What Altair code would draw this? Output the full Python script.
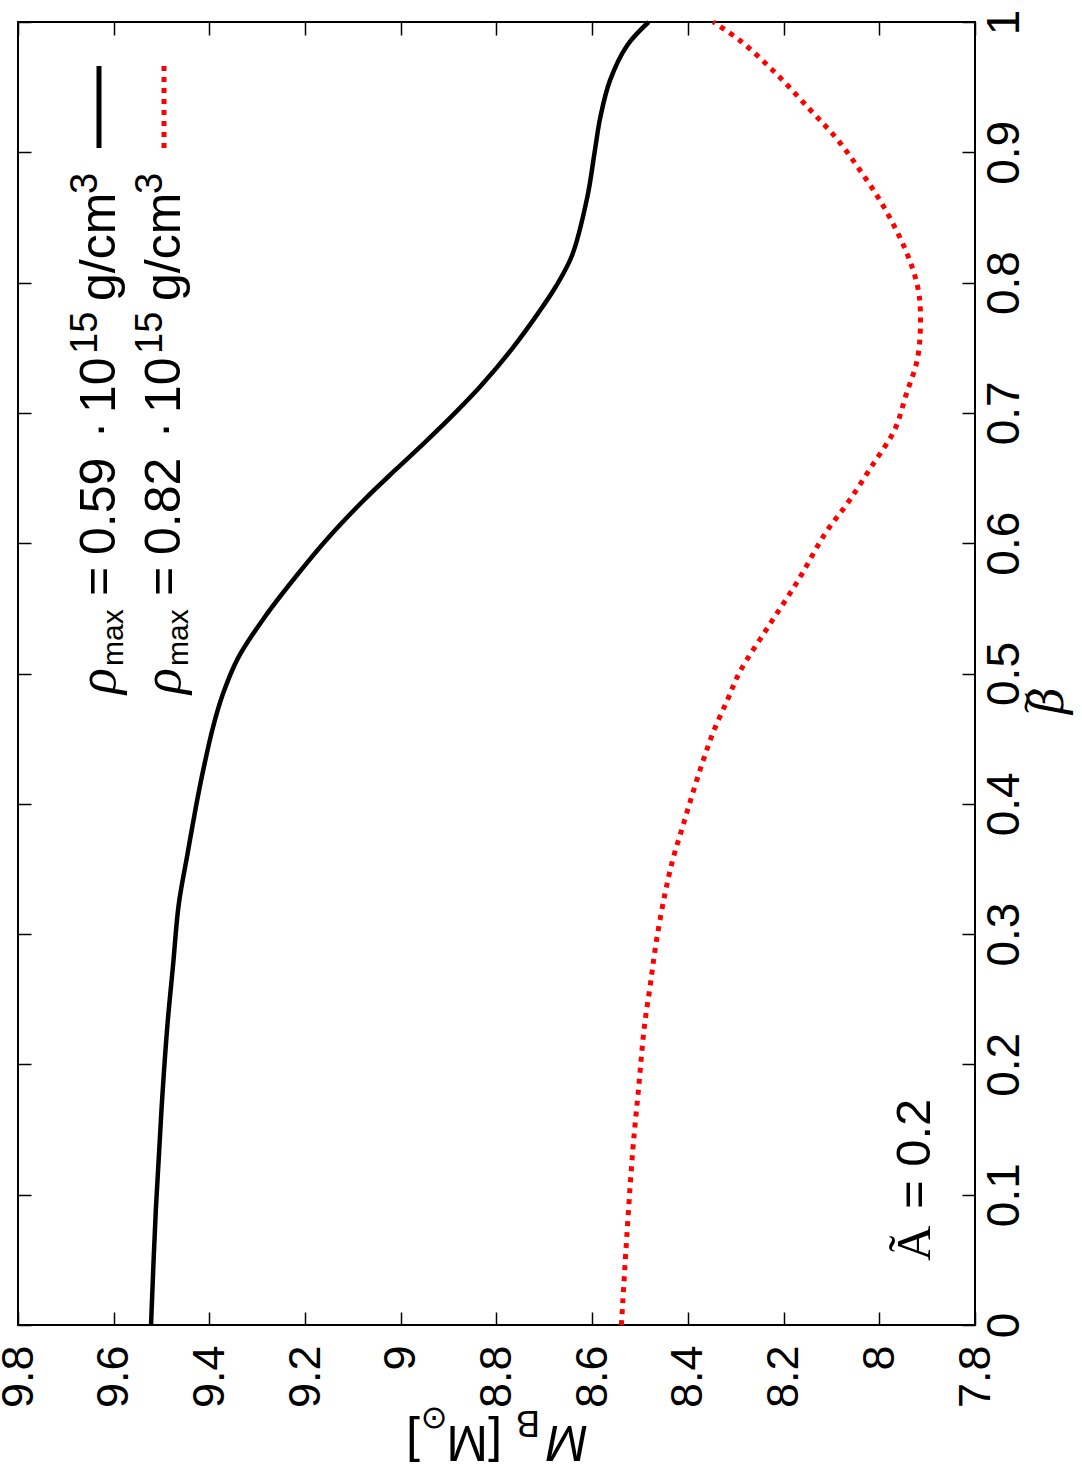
import altair as alt
import pandas as pd

# ---- data ----
beta_black = [0.0, 0.088, 0.166, 0.229, 0.276, 0.323, 0.361, 0.398, 0.424, 0.458, 0.484,
              0.512, 0.543, 0.575, 0.604, 0.632, 0.656, 0.678, 0.701, 0.721, 0.749, 0.776,
              0.797, 0.821, 0.866, 0.900, 0.927, 0.955, 0.982, 1.0]
mass_black = [9.522, 9.512, 9.500, 9.488, 9.476, 9.464, 9.446, 9.428, 9.414, 9.393, 9.372,
              9.340, 9.285, 9.218, 9.152, 9.080, 9.012, 8.948, 8.884, 8.832, 8.768, 8.714,
              8.676, 8.642, 8.610, 8.595, 8.583, 8.563, 8.527, 8.482]

beta_red = [0.0, 0.072, 0.135, 0.182, 0.229, 0.26, 0.292, 0.329, 0.358, 0.38, 0.402, 0.43,
            0.455, 0.48, 0.501, 0.536, 0.570, 0.608, 0.632, 0.659, 0.687, 0.714, 0.742,
            0.776, 0.797, 0.824, 0.859, 0.886, 0.910, 0.934, 0.962, 0.986, 1.0]
mass_red = [8.539, 8.527, 8.515, 8.503, 8.491, 8.479, 8.467, 8.449, 8.431, 8.413, 8.395, 8.371,
            8.347, 8.317, 8.292, 8.232, 8.172, 8.112, 8.064, 8.016, 7.968, 7.944, 7.920,
            7.914, 7.920, 7.944, 7.992, 8.040, 8.088, 8.148, 8.220, 8.292, 8.347]

m_ticks = [7.8, 8.0, 8.2, 8.4, 8.6, 8.8, 9.0, 9.2, 9.4, 9.6, 9.8]
beta_ticks = [0.0, 0.1, 0.2, 0.3, 0.4, 0.5, 0.6, 0.7, 0.8, 0.9, 1.0]

legend_values = ["0.59", "0.82"]

df_black = pd.DataFrame({"beta": beta_black, "M": mass_black})
df_red = pd.DataFrame({"beta": beta_red, "M": mass_red})

W, H = 957, 1303
FONT = "Liberation Sans"
FS = 46

xs = alt.Scale(domain=[7.8, 9.8], reverse=True, nice=False, zero=False)
ys = alt.Scale(domain=[0, 1], nice=False, zero=False)

# layer A: black curve, labelled axes
black = alt.Chart(df_black).mark_line(
    color="black", strokeWidth=4.5, interpolate="catmull-rom"
).encode(
    x=alt.X("M:Q", scale=xs, axis=alt.Axis(
        orient="bottom", values=m_ticks, format="~g", labelAngle=270, labelAlign="right",
        labelBaseline="middle", labelFont=FONT, labelFontSize=45, labelColor="black",
        labelPadding=20, labelFlush=False, labelOverlap=False, ticks=False, tickSize=0,
        domain=False, grid=False, title=None)),
    y=alt.Y("beta:Q", scale=ys, axis=alt.Axis(
        orient="right", values=beta_ticks, format="~g", labelAngle=270, labelAlign="center",
        labelBaseline="top", labelFont=FONT, labelFontSize=FS, labelColor="black",
        labelPadding=7, labelFlush=False, labelOverlap=False, ticks=False, tickSize=0,
        domain=False, grid=False,
        title="β", titleAngle=270, titleFont="DejaVu Serif", titleFontStyle="italic",
        titleFontWeight="normal", titleFontSize=46, titleColor="black", titleAlign="center",
        titleBaseline="alphabetic", titleX=87, titleY=678)),
    order="beta:Q",
)

# layer B: red curve, inner ticks on bottom and right edges
red = alt.Chart(df_red).mark_line(
    color="#ff0000", strokeWidth=5, strokeDash=[5, 6], interpolate="catmull-rom"
).encode(
    x=alt.X("M:Q", scale=xs, axis=alt.Axis(
        orient="top", offset=-H, values=m_ticks, labels=False, tickSize=13, tickWidth=1.5,
        tickColor="black", domain=False, grid=False, title=None)),
    y=alt.Y("beta:Q", scale=ys, axis=alt.Axis(
        orient="left", offset=-W, values=beta_ticks, labels=False, tickSize=13, tickWidth=1.5,
        tickColor="black", domain=False, grid=False, title=None)),
    order="beta:Q",
)

# layer C: invisible points, inner ticks on top and left edges
ghost = alt.Chart(df_black).mark_point(opacity=0).encode(
    x=alt.X("M:Q", scale=xs, axis=alt.Axis(
        orient="bottom", offset=-H, values=m_ticks, labels=False, tickSize=13, tickWidth=1.5,
        tickColor="black", domain=False, grid=False, title=None)),
    y=alt.Y("beta:Q", scale=ys, axis=alt.Axis(
        orient="right", offset=-W, values=beta_ticks, labels=False, tickSize=13, tickWidth=1.5,
        tickColor="black", domain=False, grid=False, title=None)),
)

one = alt.Data(values=[{}])
OX, OY = 18, 22  # plot origin in page pixels


def txt(s, px, py, size=50, angle=270, align="left", baseline="alphabetic",
        font=FONT, style="normal"):
    return alt.Chart(one).mark_text(
        text=s, angle=angle, align=align, baseline=baseline, font=font,
        fontSize=size, fontStyle=style, color="black",
    ).encode(x=alt.value(px - OX), y=alt.value(py - OY))


texts = []
# legend lines
for i, val in enumerate(legend_values):
    b = 115 + 65 * i
    texts += [
        txt("ρ", b, 694, size=54, font="Liberation Serif", style="italic"),
        txt("max", b + 8, 666, size=30),
        txt("=", b, 596),
        txt(val, b, 555),
        txt("·", b, 430, align="center"),
        txt("10", b, 413),
        txt("15", b - 18, 354, size=38),
        txt("g/cm", b, 301),
        txt("3", b - 18, 194, size=38),
    ]

# tilde of the beta axis title
texts.append(txt("~", 1027, 703, size=30, align="center", baseline="middle",
                 font="DejaVu Serif"))

# legend samples
samp_black = alt.Chart(one).mark_rule(color="black", strokeWidth=5).encode(
    x=alt.value(99 - OX), y=alt.value(66 - OY), y2=alt.value(148 - OY))
samp_red = alt.Chart(one).mark_rule(color="#ff0000", strokeWidth=5, strokeDash=[5, 6]).encode(
    x=alt.value(164 - OX), y=alt.value(66 - OY), y2=alt.value(148 - OY))

# A-tilde annotation
texts += [
    txt("Ã", 930, 1261, size=49, font="Liberation Serif"),
    txt("= 0.2", 930, 1209, size=49),
]

# x-axis title, upside down: M_B [M_sun]
texts += [
    txt("M", 588, 1426, size=50, angle=180, style="italic"),
    txt("B", 540, 1411, size=36, angle=180),
    txt("[M", 502, 1426, size=50, angle=180),
    txt("⊙", 434, 1408, size=32, angle=180, align="center", font="DejaVu Sans"),
    txt("]", 420, 1426, size=50, angle=180),
]

chart = alt.layer(black, red, ghost, samp_black, samp_red, *texts).resolve_axis(
    x="independent", y="independent"
).properties(
    width=W, height=H,
    autosize=alt.AutoSizeParams(type="none"),
    padding={"left": OX, "top": OY, "right": 1082 - OX - W, "bottom": 1471 - OY - H},
    background="white",
).configure_view(stroke="black", strokeWidth=2)

chart.save("out.html", embed_options={"renderer": "svg", "actions": False})
